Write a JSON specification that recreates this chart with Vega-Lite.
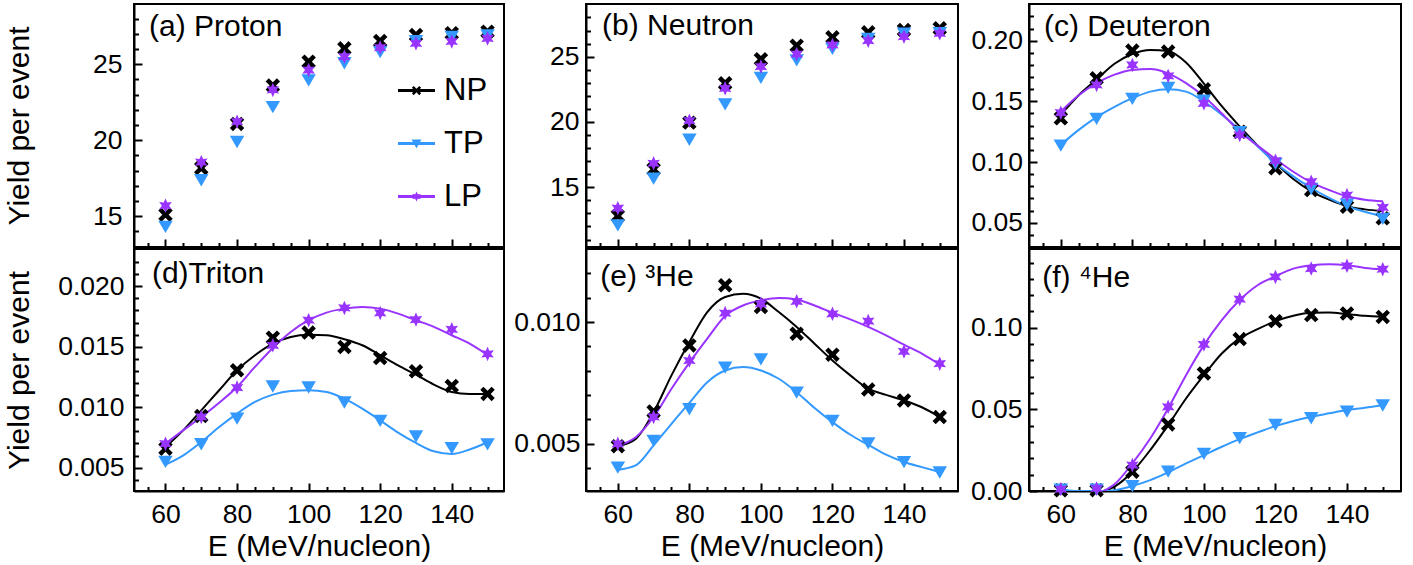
{
  "$schema": "https://vega.github.io/schema/vega-lite/v6.json",
  "padding": {"left": 3, "top": 3, "right": 5, "bottom": 5},
  "config": {
    "view": {"stroke": "black", "strokeWidth": 2},
    "font": "Liberation Sans",
    "axis": {"grid": false, "domainColor": "black", "domainWidth": 2, "tickColor": "black", "tickWidth": 2,
      "labelFont": "Liberation Sans", "labelFontSize": 26.5, "labelColor": "black",
      "titleFont": "Liberation Sans", "titleFontSize": 30, "titleFontWeight": "normal", "titleColor": "black",
      "labelOverlap": false, "labelFlush": false}
  },
  "datasets": {
    "pts_a": [
      {"E": 60, "model": "NP", "Y": 15.09}, {"E": 70, "model": "NP", "Y": 18.16}, {"E": 80, "model": "NP", "Y": 21.07}, {"E": 90, "model": "NP", "Y": 23.6}, {"E": 100, "model": "NP", "Y": 25.17}, {"E": 110, "model": "NP", "Y": 26.05}, {"E": 120, "model": "NP", "Y": 26.53}, {"E": 130, "model": "NP", "Y": 26.93}, {"E": 140, "model": "NP", "Y": 27.05}, {"E": 150, "model": "NP", "Y": 27.15},
      {"E": 60, "model": "TP", "Y": 14.32}, {"E": 70, "model": "TP", "Y": 17.39}, {"E": 80, "model": "TP", "Y": 19.91}, {"E": 90, "model": "TP", "Y": 22.21}, {"E": 100, "model": "TP", "Y": 23.97}, {"E": 110, "model": "TP", "Y": 25.1}, {"E": 120, "model": "TP", "Y": 25.83}, {"E": 130, "model": "TP", "Y": 26.55}, {"E": 140, "model": "TP", "Y": 26.84}, {"E": 150, "model": "TP", "Y": 26.93},
      {"E": 60, "model": "LP", "Y": 15.68}, {"E": 70, "model": "LP", "Y": 18.55}, {"E": 80, "model": "LP", "Y": 21.22}, {"E": 90, "model": "LP", "Y": 23.31}, {"E": 100, "model": "LP", "Y": 24.62}, {"E": 110, "model": "LP", "Y": 25.5}, {"E": 120, "model": "LP", "Y": 26.1}, {"E": 130, "model": "LP", "Y": 26.38}, {"E": 140, "model": "LP", "Y": 26.5}, {"E": 150, "model": "LP", "Y": 26.7}
    ],
    "pts_b": [
      {"E": 60, "model": "NP", "Y": 12.81}, {"E": 70, "model": "NP", "Y": 16.38}, {"E": 80, "model": "NP", "Y": 19.95}, {"E": 90, "model": "NP", "Y": 22.96}, {"E": 100, "model": "NP", "Y": 24.8}, {"E": 110, "model": "NP", "Y": 25.84}, {"E": 120, "model": "NP", "Y": 26.48}, {"E": 130, "model": "NP", "Y": 26.86}, {"E": 140, "model": "NP", "Y": 27.04}, {"E": 150, "model": "NP", "Y": 27.17},
      {"E": 60, "model": "TP", "Y": 12.12}, {"E": 70, "model": "TP", "Y": 15.7}, {"E": 80, "model": "TP", "Y": 18.68}, {"E": 90, "model": "TP", "Y": 21.38}, {"E": 100, "model": "TP", "Y": 23.42}, {"E": 110, "model": "TP", "Y": 24.75}, {"E": 120, "model": "TP", "Y": 25.64}, {"E": 130, "model": "TP", "Y": 26.4}, {"E": 140, "model": "TP", "Y": 26.79}, {"E": 150, "model": "TP", "Y": 26.84},
      {"E": 60, "model": "LP", "Y": 13.4}, {"E": 70, "model": "LP", "Y": 16.84}, {"E": 80, "model": "LP", "Y": 20.1}, {"E": 90, "model": "LP", "Y": 22.58}, {"E": 100, "model": "LP", "Y": 24.24}, {"E": 110, "model": "LP", "Y": 25.2}, {"E": 120, "model": "LP", "Y": 25.9}, {"E": 130, "model": "LP", "Y": 26.22}, {"E": 140, "model": "LP", "Y": 26.53}, {"E": 150, "model": "LP", "Y": 26.79}
    ],
    "pts_c": [
      {"E": 60, "model": "NP", "Y": 0.136}, {"E": 70, "model": "NP", "Y": 0.169}, {"E": 80, "model": "NP", "Y": 0.1918}, {"E": 90, "model": "NP", "Y": 0.191}, {"E": 100, "model": "NP", "Y": 0.1599}, {"E": 110, "model": "NP", "Y": 0.125}, {"E": 120, "model": "NP", "Y": 0.0948}, {"E": 130, "model": "NP", "Y": 0.0769}, {"E": 140, "model": "NP", "Y": 0.0632}, {"E": 150, "model": "NP", "Y": 0.0536},
      {"E": 60, "model": "TP", "Y": 0.114}, {"E": 70, "model": "TP", "Y": 0.136}, {"E": 80, "model": "TP", "Y": 0.1525}, {"E": 90, "model": "TP", "Y": 0.1615}, {"E": 100, "model": "TP", "Y": 0.151}, {"E": 110, "model": "TP", "Y": 0.125}, {"E": 120, "model": "TP", "Y": 0.0989}, {"E": 130, "model": "TP", "Y": 0.0783}, {"E": 140, "model": "TP", "Y": 0.0654}, {"E": 150, "model": "TP", "Y": 0.0536},
      {"E": 60, "model": "LP", "Y": 0.1407}, {"E": 70, "model": "LP", "Y": 0.1635}, {"E": 80, "model": "LP", "Y": 0.18}, {"E": 90, "model": "LP", "Y": 0.1709}, {"E": 100, "model": "LP", "Y": 0.1484}, {"E": 110, "model": "LP", "Y": 0.1223}, {"E": 120, "model": "LP", "Y": 0.1011}, {"E": 130, "model": "LP", "Y": 0.0838}, {"E": 140, "model": "LP", "Y": 0.0728}, {"E": 150, "model": "LP", "Y": 0.0626}
    ],
    "fit_c": [
      {"E": 60, "model": "NP", "Y": 0.1389}, {"E": 65, "model": "NP", "Y": 0.155}, {"E": 70, "model": "NP", "Y": 0.168}, {"E": 75, "model": "NP", "Y": 0.181}, {"E": 80, "model": "NP", "Y": 0.189}, {"E": 85, "model": "NP", "Y": 0.1923}, {"E": 90, "model": "NP", "Y": 0.1915}, {"E": 95, "model": "NP", "Y": 0.182}, {"E": 100, "model": "NP", "Y": 0.1646}, {"E": 105, "model": "NP", "Y": 0.146}, {"E": 110, "model": "NP", "Y": 0.1293}, {"E": 115, "model": "NP", "Y": 0.1135}, {"E": 120, "model": "NP", "Y": 0.0992}, {"E": 125, "model": "NP", "Y": 0.086}, {"E": 130, "model": "NP", "Y": 0.0759}, {"E": 135, "model": "NP", "Y": 0.069}, {"E": 140, "model": "NP", "Y": 0.0636}, {"E": 145, "model": "NP", "Y": 0.061}, {"E": 150, "model": "NP", "Y": 0.0595},
      {"E": 60, "model": "TP", "Y": 0.1142}, {"E": 65, "model": "TP", "Y": 0.1265}, {"E": 70, "model": "TP", "Y": 0.137}, {"E": 75, "model": "TP", "Y": 0.1455}, {"E": 80, "model": "TP", "Y": 0.1526}, {"E": 85, "model": "TP", "Y": 0.158}, {"E": 90, "model": "TP", "Y": 0.16}, {"E": 95, "model": "TP", "Y": 0.158}, {"E": 100, "model": "TP", "Y": 0.1499}, {"E": 105, "model": "TP", "Y": 0.139}, {"E": 110, "model": "TP", "Y": 0.1266}, {"E": 115, "model": "TP", "Y": 0.113}, {"E": 120, "model": "TP", "Y": 0.0992}, {"E": 125, "model": "TP", "Y": 0.0882}, {"E": 130, "model": "TP", "Y": 0.0786}, {"E": 135, "model": "TP", "Y": 0.0705}, {"E": 140, "model": "TP", "Y": 0.0636}, {"E": 145, "model": "TP", "Y": 0.059}, {"E": 150, "model": "TP", "Y": 0.0553},
      {"E": 60, "model": "LP", "Y": 0.1416}, {"E": 65, "model": "LP", "Y": 0.155}, {"E": 70, "model": "LP", "Y": 0.165}, {"E": 75, "model": "LP", "Y": 0.172}, {"E": 80, "model": "LP", "Y": 0.1759}, {"E": 85, "model": "LP", "Y": 0.1767}, {"E": 90, "model": "LP", "Y": 0.1731}, {"E": 95, "model": "LP", "Y": 0.165}, {"E": 100, "model": "LP", "Y": 0.154}, {"E": 105, "model": "LP", "Y": 0.14}, {"E": 110, "model": "LP", "Y": 0.1252}, {"E": 115, "model": "LP", "Y": 0.1135}, {"E": 120, "model": "LP", "Y": 0.1025}, {"E": 125, "model": "LP", "Y": 0.092}, {"E": 130, "model": "LP", "Y": 0.0833}, {"E": 135, "model": "LP", "Y": 0.077}, {"E": 140, "model": "LP", "Y": 0.0718}, {"E": 145, "model": "LP", "Y": 0.069}, {"E": 150, "model": "LP", "Y": 0.0677}
    ],
    "pts_d": [
      {"E": 60, "model": "NP", "Y": 0.00657}, {"E": 70, "model": "NP", "Y": 0.00927}, {"E": 80, "model": "NP", "Y": 0.01305}, {"E": 90, "model": "NP", "Y": 0.01575}, {"E": 100, "model": "NP", "Y": 0.01617}, {"E": 110, "model": "NP", "Y": 0.01498}, {"E": 120, "model": "NP", "Y": 0.01407}, {"E": 130, "model": "NP", "Y": 0.01297}, {"E": 140, "model": "NP", "Y": 0.01175}, {"E": 150, "model": "NP", "Y": 0.0111},
      {"E": 60, "model": "TP", "Y": 0.00552}, {"E": 70, "model": "TP", "Y": 0.00698}, {"E": 80, "model": "TP", "Y": 0.0091}, {"E": 90, "model": "TP", "Y": 0.01175}, {"E": 100, "model": "TP", "Y": 0.01167}, {"E": 110, "model": "TP", "Y": 0.01043}, {"E": 120, "model": "TP", "Y": 0.00891}, {"E": 130, "model": "TP", "Y": 0.00762}, {"E": 140, "model": "TP", "Y": 0.00665}, {"E": 150, "model": "TP", "Y": 0.00696},
      {"E": 60, "model": "LP", "Y": 0.00698}, {"E": 70, "model": "LP", "Y": 0.00919}, {"E": 80, "model": "LP", "Y": 0.01162}, {"E": 90, "model": "LP", "Y": 0.01512}, {"E": 100, "model": "LP", "Y": 0.01719}, {"E": 110, "model": "LP", "Y": 0.01821}, {"E": 120, "model": "LP", "Y": 0.01779}, {"E": 130, "model": "LP", "Y": 0.01724}, {"E": 140, "model": "LP", "Y": 0.01644}, {"E": 150, "model": "LP", "Y": 0.0144}
    ],
    "fit_d": [
      {"E": 60, "model": "NP", "Y": 0.0067}, {"E": 65, "model": "NP", "Y": 0.0081}, {"E": 70, "model": "NP", "Y": 0.00974}, {"E": 75, "model": "NP", "Y": 0.0114}, {"E": 80, "model": "NP", "Y": 0.01305}, {"E": 85, "model": "NP", "Y": 0.0143}, {"E": 90, "model": "NP", "Y": 0.01526}, {"E": 95, "model": "NP", "Y": 0.01581}, {"E": 100, "model": "NP", "Y": 0.016}, {"E": 105, "model": "NP", "Y": 0.01595}, {"E": 110, "model": "NP", "Y": 0.01562}, {"E": 115, "model": "NP", "Y": 0.01512}, {"E": 120, "model": "NP", "Y": 0.0143}, {"E": 125, "model": "NP", "Y": 0.01346}, {"E": 130, "model": "NP", "Y": 0.01269}, {"E": 135, "model": "NP", "Y": 0.01187}, {"E": 140, "model": "NP", "Y": 0.01126}, {"E": 145, "model": "NP", "Y": 0.0111}, {"E": 150, "model": "NP", "Y": 0.0111},
      {"E": 60, "model": "TP", "Y": 0.00525}, {"E": 65, "model": "TP", "Y": 0.00602}, {"E": 70, "model": "TP", "Y": 0.00712}, {"E": 75, "model": "TP", "Y": 0.00836}, {"E": 80, "model": "TP", "Y": 0.00947}, {"E": 85, "model": "TP", "Y": 0.01043}, {"E": 90, "model": "TP", "Y": 0.01104}, {"E": 95, "model": "TP", "Y": 0.01134}, {"E": 100, "model": "TP", "Y": 0.0114}, {"E": 105, "model": "TP", "Y": 0.01126}, {"E": 110, "model": "TP", "Y": 0.01071}, {"E": 115, "model": "TP", "Y": 0.00988}, {"E": 120, "model": "TP", "Y": 0.00891}, {"E": 125, "model": "TP", "Y": 0.0079}, {"E": 130, "model": "TP", "Y": 0.00704}, {"E": 135, "model": "TP", "Y": 0.00635}, {"E": 140, "model": "TP", "Y": 0.00613}, {"E": 145, "model": "TP", "Y": 0.0065}, {"E": 150, "model": "TP", "Y": 0.0071},
      {"E": 60, "model": "LP", "Y": 0.007}, {"E": 65, "model": "LP", "Y": 0.0081}, {"E": 70, "model": "LP", "Y": 0.00919}, {"E": 75, "model": "LP", "Y": 0.01037}, {"E": 80, "model": "LP", "Y": 0.01167}, {"E": 85, "model": "LP", "Y": 0.01333}, {"E": 90, "model": "LP", "Y": 0.0149}, {"E": 95, "model": "LP", "Y": 0.01622}, {"E": 100, "model": "LP", "Y": 0.01719}, {"E": 105, "model": "LP", "Y": 0.01782}, {"E": 110, "model": "LP", "Y": 0.01815}, {"E": 115, "model": "LP", "Y": 0.01829}, {"E": 120, "model": "LP", "Y": 0.01815}, {"E": 125, "model": "LP", "Y": 0.01774}, {"E": 130, "model": "LP", "Y": 0.01719}, {"E": 135, "model": "LP", "Y": 0.01664}, {"E": 140, "model": "LP", "Y": 0.01595}, {"E": 145, "model": "LP", "Y": 0.01526}, {"E": 150, "model": "LP", "Y": 0.01432}
    ],
    "pts_e": [
      {"E": 60, "model": "NP", "Y": 0.0049}, {"E": 70, "model": "NP", "Y": 0.00633}, {"E": 80, "model": "NP", "Y": 0.00904}, {"E": 90, "model": "NP", "Y": 0.01151}, {"E": 100, "model": "NP", "Y": 0.01062}, {"E": 110, "model": "NP", "Y": 0.00952}, {"E": 120, "model": "NP", "Y": 0.00866}, {"E": 130, "model": "NP", "Y": 0.00723}, {"E": 140, "model": "NP", "Y": 0.00678}, {"E": 150, "model": "NP", "Y": 0.0061},
      {"E": 60, "model": "TP", "Y": 0.00404}, {"E": 70, "model": "TP", "Y": 0.00514}, {"E": 80, "model": "TP", "Y": 0.00644}, {"E": 90, "model": "TP", "Y": 0.00815}, {"E": 100, "model": "TP", "Y": 0.00849}, {"E": 110, "model": "TP", "Y": 0.00712}, {"E": 120, "model": "TP", "Y": 0.00596}, {"E": 130, "model": "TP", "Y": 0.00504}, {"E": 140, "model": "TP", "Y": 0.00427}, {"E": 150, "model": "TP", "Y": 0.00384},
      {"E": 60, "model": "LP", "Y": 0.005}, {"E": 70, "model": "LP", "Y": 0.0061}, {"E": 80, "model": "LP", "Y": 0.00842}, {"E": 90, "model": "LP", "Y": 0.01037}, {"E": 100, "model": "LP", "Y": 0.01075}, {"E": 110, "model": "LP", "Y": 0.01085}, {"E": 120, "model": "LP", "Y": 0.01034}, {"E": 130, "model": "LP", "Y": 0.01004}, {"E": 140, "model": "LP", "Y": 0.00879}, {"E": 150, "model": "LP", "Y": 0.00829}
    ],
    "fit_e": [
      {"E": 60, "model": "NP", "Y": 0.0049}, {"E": 65, "model": "NP", "Y": 0.0052}, {"E": 70, "model": "NP", "Y": 0.0063}, {"E": 75, "model": "NP", "Y": 0.00781}, {"E": 80, "model": "NP", "Y": 0.00918}, {"E": 85, "model": "NP", "Y": 0.01041}, {"E": 90, "model": "NP", "Y": 0.01103}, {"E": 95, "model": "NP", "Y": 0.01116}, {"E": 100, "model": "NP", "Y": 0.01096}, {"E": 105, "model": "NP", "Y": 0.01041}, {"E": 110, "model": "NP", "Y": 0.0098}, {"E": 115, "model": "NP", "Y": 0.00911}, {"E": 120, "model": "NP", "Y": 0.00842}, {"E": 125, "model": "NP", "Y": 0.00781}, {"E": 130, "model": "NP", "Y": 0.00726}, {"E": 135, "model": "NP", "Y": 0.00701}, {"E": 140, "model": "NP", "Y": 0.00678}, {"E": 145, "model": "NP", "Y": 0.0065}, {"E": 150, "model": "NP", "Y": 0.0061},
      {"E": 60, "model": "TP", "Y": 0.00393}, {"E": 65, "model": "TP", "Y": 0.00411}, {"E": 70, "model": "TP", "Y": 0.00493}, {"E": 75, "model": "TP", "Y": 0.00582}, {"E": 80, "model": "TP", "Y": 0.00668}, {"E": 85, "model": "TP", "Y": 0.00753}, {"E": 90, "model": "TP", "Y": 0.00801}, {"E": 95, "model": "TP", "Y": 0.00815}, {"E": 100, "model": "TP", "Y": 0.00801}, {"E": 105, "model": "TP", "Y": 0.00767}, {"E": 110, "model": "TP", "Y": 0.00712}, {"E": 115, "model": "TP", "Y": 0.00647}, {"E": 120, "model": "TP", "Y": 0.00589}, {"E": 125, "model": "TP", "Y": 0.00537}, {"E": 130, "model": "TP", "Y": 0.00496}, {"E": 135, "model": "TP", "Y": 0.00455}, {"E": 140, "model": "TP", "Y": 0.00425}, {"E": 145, "model": "TP", "Y": 0.00404}, {"E": 150, "model": "TP", "Y": 0.00384},
      {"E": 60, "model": "LP", "Y": 0.00493}, {"E": 65, "model": "LP", "Y": 0.00527}, {"E": 70, "model": "LP", "Y": 0.0061}, {"E": 75, "model": "LP", "Y": 0.00726}, {"E": 80, "model": "LP", "Y": 0.00833}, {"E": 85, "model": "LP", "Y": 0.00932}, {"E": 90, "model": "LP", "Y": 0.01025}, {"E": 95, "model": "LP", "Y": 0.01068}, {"E": 100, "model": "LP", "Y": 0.01089}, {"E": 105, "model": "LP", "Y": 0.01099}, {"E": 110, "model": "LP", "Y": 0.01093}, {"E": 115, "model": "LP", "Y": 0.01068}, {"E": 120, "model": "LP", "Y": 0.01038}, {"E": 125, "model": "LP", "Y": 0.01011}, {"E": 130, "model": "LP", "Y": 0.0098}, {"E": 135, "model": "LP", "Y": 0.00945}, {"E": 140, "model": "LP", "Y": 0.00907}, {"E": 145, "model": "LP", "Y": 0.0087}, {"E": 150, "model": "LP", "Y": 0.00825}
    ],
    "pts_f": [
      {"E": 60, "model": "NP", "Y": 0.0004}, {"E": 70, "model": "NP", "Y": 0.0005}, {"E": 80, "model": "NP", "Y": 0.0118}, {"E": 90, "model": "NP", "Y": 0.0408}, {"E": 100, "model": "NP", "Y": 0.072}, {"E": 110, "model": "NP", "Y": 0.0931}, {"E": 120, "model": "NP", "Y": 0.1041}, {"E": 130, "model": "NP", "Y": 0.1078}, {"E": 140, "model": "NP", "Y": 0.1088}, {"E": 150, "model": "NP", "Y": 0.1067},
      {"E": 60, "model": "TP", "Y": 0.0012}, {"E": 70, "model": "TP", "Y": 0.0012}, {"E": 80, "model": "TP", "Y": 0.0033}, {"E": 90, "model": "TP", "Y": 0.0122}, {"E": 100, "model": "TP", "Y": 0.0231}, {"E": 110, "model": "TP", "Y": 0.0327}, {"E": 120, "model": "TP", "Y": 0.0408}, {"E": 130, "model": "TP", "Y": 0.0449}, {"E": 140, "model": "TP", "Y": 0.049}, {"E": 150, "model": "TP", "Y": 0.0527},
      {"E": 60, "model": "LP", "Y": 0.0012}, {"E": 70, "model": "LP", "Y": 0.0016}, {"E": 80, "model": "LP", "Y": 0.0159}, {"E": 90, "model": "LP", "Y": 0.0516}, {"E": 100, "model": "LP", "Y": 0.0898}, {"E": 110, "model": "LP", "Y": 0.1176}, {"E": 120, "model": "LP", "Y": 0.1312}, {"E": 130, "model": "LP", "Y": 0.1363}, {"E": 140, "model": "LP", "Y": 0.138}, {"E": 150, "model": "LP", "Y": 0.1359}
    ],
    "fit_f": [
      {"E": 72, "model": "NP", "Y": 0}, {"E": 75, "model": "NP", "Y": 0.0027}, {"E": 80, "model": "NP", "Y": 0.0118}, {"E": 85, "model": "NP", "Y": 0.0251}, {"E": 90, "model": "NP", "Y": 0.0404}, {"E": 95, "model": "NP", "Y": 0.0567}, {"E": 100, "model": "NP", "Y": 0.071}, {"E": 105, "model": "NP", "Y": 0.0843}, {"E": 110, "model": "NP", "Y": 0.0935}, {"E": 115, "model": "NP", "Y": 0.0992}, {"E": 120, "model": "NP", "Y": 0.1041}, {"E": 125, "model": "NP", "Y": 0.1074}, {"E": 130, "model": "NP", "Y": 0.1092}, {"E": 135, "model": "NP", "Y": 0.1094}, {"E": 140, "model": "NP", "Y": 0.1084}, {"E": 145, "model": "NP", "Y": 0.1074}, {"E": 150, "model": "NP", "Y": 0.1067},
      {"E": 60, "model": "TP", "Y": 0.0012}, {"E": 64, "model": "TP", "Y": 0}, {"E": 73, "model": "TP", "Y": 0}, {"E": 80, "model": "TP", "Y": 0.0031}, {"E": 85, "model": "TP", "Y": 0.0067}, {"E": 90, "model": "TP", "Y": 0.0114}, {"E": 95, "model": "TP", "Y": 0.0169}, {"E": 100, "model": "TP", "Y": 0.022}, {"E": 105, "model": "TP", "Y": 0.0271}, {"E": 110, "model": "TP", "Y": 0.0318}, {"E": 115, "model": "TP", "Y": 0.0359}, {"E": 120, "model": "TP", "Y": 0.0398}, {"E": 125, "model": "TP", "Y": 0.0429}, {"E": 130, "model": "TP", "Y": 0.0455}, {"E": 135, "model": "TP", "Y": 0.0476}, {"E": 140, "model": "TP", "Y": 0.0496}, {"E": 145, "model": "TP", "Y": 0.051}, {"E": 150, "model": "TP", "Y": 0.0527},
      {"E": 72, "model": "LP", "Y": 0}, {"E": 75, "model": "LP", "Y": 0.0041}, {"E": 80, "model": "LP", "Y": 0.0169}, {"E": 85, "model": "LP", "Y": 0.0322}, {"E": 90, "model": "LP", "Y": 0.0506}, {"E": 95, "model": "LP", "Y": 0.071}, {"E": 100, "model": "LP", "Y": 0.0894}, {"E": 105, "model": "LP", "Y": 0.1047}, {"E": 110, "model": "LP", "Y": 0.117}, {"E": 115, "model": "LP", "Y": 0.1261}, {"E": 120, "model": "LP", "Y": 0.1316}, {"E": 125, "model": "LP", "Y": 0.1363}, {"E": 130, "model": "LP", "Y": 0.1384}, {"E": 135, "model": "LP", "Y": 0.139}, {"E": 140, "model": "LP", "Y": 0.1384}, {"E": 145, "model": "LP", "Y": 0.1367}, {"E": 150, "model": "LP", "Y": 0.1359}
    ]
  },
  "spacing": 10,
  "hconcat": [
    {"spacing": 7, "hconcat": [
    {"spacing": -2, "vconcat": [
      {"width": 370, "height": 243,
       "resolve": {"scale": {"shape": "independent", "color": "independent"}, "axis": {"x": "independent", "y": "independent"}},
       "layer": [
        {"data": {"name": "pts_a"}, "mark": {"type": "point", "filled": true, "opacity": 1, "size": 210},
         "encoding": {
          "x": {"field": "E", "type": "quantitative", "scale": {"domain": [51.2, 154.6], "nice": false, "zero": false},
                "axis": {"orient": "bottom", "values": [60, 80, 100, 120, 140], "labels": false, "ticks": false, "tickSize": 0, "title": null}},
          "y": {"field": "Y", "type": "quantitative", "scale": {"domain": [12.96, 28.97], "nice": false, "zero": false},
                "axis": {"orient": "left", "values": [15, 20, 25], "format": "d", "ticks": false, "tickSize": 0, "labelPadding": 12, "title": "Yield per event", "titleX": -100}},
          "color": {"field": "model", "type": "nominal", "scale": {"domain": ["NP", "TP", "LP"], "range": ["#000000", "#3399FF", "#9933FF"]}, "legend": null},
          "shape": {"field": "model", "type": "nominal", "scale": {"domain": ["NP", "TP", "LP"], "range": [
            "M0,-0.44L0.56,-1L1,-0.56L0.44,0L1,0.56L0.56,1L0,0.44L-0.56,1L-1,0.56L-0.44,0L-1,-0.56L-0.56,-1Z",
            "M-1,-0.78L1,-0.78L0,0.92Z",
            "M0,-1L0.25,-0.43L0.866,-0.5L0.5,0L0.866,0.5L0.25,0.43L0,1L-0.25,0.43L-0.866,0.5L-0.5,0L-0.866,-0.5L-0.25,-0.43Z"]}, "legend": null}
         }},
        {"data": {"name": "pts_a"}, "transform": [{"filter": "datum.E > 1000"}],
         "mark": {"type": "point", "filled": true, "opacity": 1, "size": 1369},
         "encoding": {
          "x": {"field": "E", "type": "quantitative", "axis": {"orient": "bottom", "values": [60, 80, 100, 120, 140], "labels": false, "domain": false, "tickSize": -8, "title": null}},
          "y": {"field": "Y", "type": "quantitative", "axis": {"orient": "left", "values": [15, 20, 25], "labels": false, "domain": false, "tickSize": -8, "title": null}},
          "color": {"field": "model", "type": "nominal", "scale": {"domain": ["NP", "TP", "LP"], "range": ["#000000", "#3399FF", "#9933FF"]},
                    "legend": {"orient": "none", "legendX": 264, "legendY": 68, "title": null, "labelFont": "Liberation Sans", "labelFontSize": 31, "labelColor": "black", "symbolSize": 1369, "rowPadding": 19, "labelOffset": 9, "symbolStrokeWidth": 0}},
          "shape": {"field": "model", "type": "nominal", "scale": {"domain": ["NP", "TP", "LP"], "range": [
            "M-1,-0.08H1V0.08H-1Z M0,-0.1L0.15,-0.25L0.25,-0.15L0.1,0L0.25,0.15L0.15,0.25L0,0.1L-0.15,0.25L-0.25,0.15L-0.1,0L-0.25,-0.15L-0.15,-0.25Z",
            "M-1,-0.08H1V0.08H-1Z M-0.27,-0.21L0.27,-0.21L0,0.25Z",
            "M-1,-0.08H1V0.08H-1Z M0,-0.27L0.07,-0.12L0.234,-0.135L0.135,0L0.234,0.135L0.07,0.12L0,0.27L-0.07,0.12L-0.234,0.135L-0.135,0L-0.234,-0.135L-0.07,-0.12Z"]},
                    "legend": {"orient": "none", "legendX": 264, "legendY": 68, "title": null, "labelFont": "Liberation Sans", "labelFontSize": 31, "labelColor": "black", "symbolSize": 1369, "rowPadding": 19, "labelOffset": 9, "symbolStrokeWidth": 0}}
         }},
        {"data": {"values": [{}]}, "mark": {"type": "text", "font": "Liberation Sans", "fontSize": 30, "align": "left", "baseline": "middle", "color": "black"},
         "encoding": {
          "x": {"datum": 55.4, "type": "quantitative", "axis": {"orient": "bottom", "values": [55,65,70,75,85,90,95,105,110,115,125,130,135,145,150], "labels": false, "domain": false, "tickSize": -4.5, "title": null}},
          "y": {"datum": 27.46, "type": "quantitative", "axis": {"orient": "left", "values": [14,16,17,18,19,21,22,23,24,26,27,28], "labels": false, "domain": false, "tickSize": -4.5, "title": null}},
          "text": {"value": "(a) Proton"}}}
       ]},
      {"width": 370, "height": 242,
       "resolve": {"axis": {"x": "independent", "y": "independent"}},
       "layer": [
        {"data": {"name": "fit_d"}, "mark": {"type": "line", "interpolate": "monotone", "strokeWidth": 2, "clip": true},
         "encoding": {
          "x": {"field": "E", "type": "quantitative", "scale": {"domain": [51.2, 154.6], "nice": false, "zero": false},
                "axis": {"orient": "bottom", "values": [60, 80, 100, 120, 140], "format": "d", "ticks": false, "tickSize": 0, "labelPadding": 10.5, "title": "E (MeV/nucleon)", "titlePadding": 3}},
          "y": {"field": "Y", "type": "quantitative", "scale": {"domain": [0.00307, 0.02308], "nice": false, "zero": false},
                "axis": {"orient": "left", "values": [0.005, 0.01, 0.015, 0.02], "format": ".3f", "ticks": false, "tickSize": 0, "labelPadding": 10, "title": "Yield per event", "titleX": -100}},
          "color": {"field": "model", "type": "nominal", "scale": {"domain": ["NP", "TP", "LP"], "range": ["#000000", "#3399FF", "#9933FF"]}, "legend": null}
         }},
        {"data": {"name": "pts_d"}, "mark": {"type": "point", "filled": true, "opacity": 1, "size": 210},
         "encoding": {
          "x": {"field": "E", "type": "quantitative", "axis": {"orient": "bottom", "values": [60, 80, 100, 120, 140], "labels": false, "domain": false, "tickSize": -8, "title": null}},
          "y": {"field": "Y", "type": "quantitative", "axis": {"orient": "left", "values": [0.005, 0.01, 0.015, 0.02], "labels": false, "domain": false, "tickSize": -8, "title": null}},
          "color": {"field": "model", "type": "nominal", "legend": null},
          "shape": {"field": "model", "type": "nominal", "scale": {"domain": ["NP", "TP", "LP"], "range": [
            "M0,-0.44L0.56,-1L1,-0.56L0.44,0L1,0.56L0.56,1L0,0.44L-0.56,1L-1,0.56L-0.44,0L-1,-0.56L-0.56,-1Z",
            "M-1,-0.78L1,-0.78L0,0.92Z",
            "M0,-1L0.25,-0.43L0.866,-0.5L0.5,0L0.866,0.5L0.25,0.43L0,1L-0.25,0.43L-0.866,0.5L-0.5,0L-0.866,-0.5L-0.25,-0.43Z"]}, "legend": null}
         }},
        {"data": {"values": [{}]}, "mark": {"type": "text", "font": "Liberation Sans", "fontSize": 30, "align": "left", "baseline": "middle", "color": "black"},
         "encoding": {
          "x": {"datum": 56.2, "type": "quantitative", "axis": {"orient": "bottom", "values": [55,65,70,75,85,90,95,105,110,115,125,130,135,145,150], "labels": false, "domain": false, "tickSize": -4.5, "title": null}},
          "y": {"datum": 0.02101, "type": "quantitative", "axis": {"orient": "left", "values": [0.004,0.006,0.007,0.008,0.009,0.011,0.012,0.013,0.014,0.016,0.017,0.018,0.019,0.021,0.022], "labels": false, "domain": false, "tickSize": -4.5, "title": null}},
          "text": {"value": "(d)Triton"}}}
       ]}
    ]},
    {"spacing": -2, "vconcat": [
      {"width": 372, "height": 243,
       "resolve": {"axis": {"x": "independent", "y": "independent"}},
       "layer": [
        {"data": {"name": "pts_b"}, "mark": {"type": "point", "filled": true, "opacity": 1, "size": 210},
         "encoding": {
          "x": {"field": "E", "type": "quantitative", "scale": {"domain": [51.1, 155.1], "nice": false, "zero": false},
                "axis": {"orient": "bottom", "values": [60, 80, 100, 120, 140], "labels": false, "ticks": false, "tickSize": 0, "title": null}},
          "y": {"field": "Y", "type": "quantitative", "scale": {"domain": [10.43, 29.03], "nice": false, "zero": false},
                "axis": {"orient": "left", "values": [15, 20, 25], "format": "d", "ticks": false, "tickSize": 0, "labelPadding": 7, "title": null}},
          "color": {"field": "model", "type": "nominal", "scale": {"domain": ["NP", "TP", "LP"], "range": ["#000000", "#3399FF", "#9933FF"]}, "legend": null},
          "shape": {"field": "model", "type": "nominal", "scale": {"domain": ["NP", "TP", "LP"], "range": [
            "M0,-0.44L0.56,-1L1,-0.56L0.44,0L1,0.56L0.56,1L0,0.44L-0.56,1L-1,0.56L-0.44,0L-1,-0.56L-0.56,-1Z",
            "M-1,-0.78L1,-0.78L0,0.92Z",
            "M0,-1L0.25,-0.43L0.866,-0.5L0.5,0L0.866,0.5L0.25,0.43L0,1L-0.25,0.43L-0.866,0.5L-0.5,0L-0.866,-0.5L-0.25,-0.43Z"]}, "legend": null}
         }},
        {"data": {"name": "pts_b"}, "transform": [{"filter": "datum.E > 1000"}], "mark": {"type": "point"},
         "encoding": {
          "x": {"field": "E", "type": "quantitative", "axis": {"orient": "bottom", "values": [60, 80, 100, 120, 140], "labels": false, "domain": false, "tickSize": -8, "title": null}},
          "y": {"field": "Y", "type": "quantitative", "axis": {"orient": "left", "values": [15, 20, 25], "labels": false, "domain": false, "tickSize": -8, "title": null}}
         }},
        {"data": {"values": [{}]}, "mark": {"type": "text", "font": "Liberation Sans", "fontSize": 30, "align": "left", "baseline": "middle", "color": "black"},
         "encoding": {
          "x": {"datum": 55.6, "type": "quantitative", "axis": {"orient": "bottom", "values": [55,65,70,75,85,90,95,105,110,115,125,130,135,145,150], "labels": false, "domain": false, "tickSize": -4.5, "title": null}},
          "y": {"datum": 27.35, "type": "quantitative", "axis": {"orient": "left", "values": [11,12,13,14,16,17,18,19,21,22,23,24,26,27,28], "labels": false, "domain": false, "tickSize": -4.5, "title": null}},
          "text": {"value": "(b) Neutron"}}}
       ]},
      {"width": 372, "height": 242,
       "resolve": {"axis": {"x": "independent", "y": "independent"}},
       "layer": [
        {"data": {"name": "fit_e"}, "mark": {"type": "line", "interpolate": "monotone", "strokeWidth": 2, "clip": true},
         "encoding": {
          "x": {"field": "E", "type": "quantitative", "scale": {"domain": [51.1, 155.1], "nice": false, "zero": false},
                "axis": {"orient": "bottom", "values": [60, 80, 100, 120, 140], "format": "d", "ticks": false, "tickSize": 0, "labelPadding": 10.5, "title": "E (MeV/nucleon)", "titlePadding": 3}},
          "y": {"field": "Y", "type": "quantitative", "scale": {"domain": [0.00306, 0.013], "nice": false, "zero": false},
                "axis": {"orient": "left", "values": [0.005, 0.01], "format": ".3f", "ticks": false, "tickSize": 0, "labelPadding": 6, "title": null}},
          "color": {"field": "model", "type": "nominal", "scale": {"domain": ["NP", "TP", "LP"], "range": ["#000000", "#3399FF", "#9933FF"]}, "legend": null}
         }},
        {"data": {"name": "pts_e"}, "mark": {"type": "point", "filled": true, "opacity": 1, "size": 210},
         "encoding": {
          "x": {"field": "E", "type": "quantitative", "axis": {"orient": "bottom", "values": [60, 80, 100, 120, 140], "labels": false, "domain": false, "tickSize": -8, "title": null}},
          "y": {"field": "Y", "type": "quantitative", "axis": {"orient": "left", "values": [0.005, 0.01], "labels": false, "domain": false, "tickSize": -8, "title": null}},
          "color": {"field": "model", "type": "nominal", "legend": null},
          "shape": {"field": "model", "type": "nominal", "scale": {"domain": ["NP", "TP", "LP"], "range": [
            "M0,-0.44L0.56,-1L1,-0.56L0.44,0L1,0.56L0.56,1L0,0.44L-0.56,1L-1,0.56L-0.44,0L-1,-0.56L-0.56,-1Z",
            "M-1,-0.78L1,-0.78L0,0.92Z",
            "M0,-1L0.25,-0.43L0.866,-0.5L0.5,0L0.866,0.5L0.25,0.43L0,1L-0.25,0.43L-0.866,0.5L-0.5,0L-0.866,-0.5L-0.25,-0.43Z"]}, "legend": null}
         }},
        {"data": {"values": [{}]}, "mark": {"type": "text", "font": "Liberation Sans", "fontSize": 30, "align": "left", "baseline": "middle", "color": "black"},
         "encoding": {
          "x": {"datum": 55.1, "type": "quantitative", "axis": {"orient": "bottom", "values": [55,65,70,75,85,90,95,105,110,115,125,130,135,145,150], "labels": false, "domain": false, "tickSize": -4.5, "title": null}},
          "y": {"datum": 0.01185, "type": "quantitative", "axis": {"orient": "left", "values": [0.004,0.006,0.007,0.008,0.009,0.011,0.012], "labels": false, "domain": false, "tickSize": -4.5, "title": null}},
          "text": {"value": "(e) ³He"}}}
       ]}
    ]}
    ]},
    {"spacing": -2, "vconcat": [
      {"width": 372, "height": 243,
       "resolve": {"axis": {"x": "independent", "y": "independent"}},
       "layer": [
        {"data": {"name": "fit_c"}, "mark": {"type": "line", "interpolate": "monotone", "strokeWidth": 2, "clip": true},
         "encoding": {
          "x": {"field": "E", "type": "quantitative", "scale": {"domain": [51.1, 155.1], "nice": false, "zero": false},
                "axis": {"orient": "bottom", "values": [60, 80, 100, 120, 140], "labels": false, "ticks": false, "tickSize": 0, "title": null}},
          "y": {"field": "Y", "type": "quantitative", "scale": {"domain": [0.03, 0.2302], "nice": false, "zero": false},
                "axis": {"orient": "left", "values": [0.05, 0.1, 0.15, 0.2], "format": ".2f", "ticks": false, "tickSize": 0, "labelPadding": 6.5, "title": null}},
          "color": {"field": "model", "type": "nominal", "scale": {"domain": ["NP", "TP", "LP"], "range": ["#000000", "#3399FF", "#9933FF"]}, "legend": null}
         }},
        {"data": {"name": "pts_c"}, "mark": {"type": "point", "filled": true, "opacity": 1, "size": 210},
         "encoding": {
          "x": {"field": "E", "type": "quantitative", "axis": {"orient": "bottom", "values": [60, 80, 100, 120, 140], "labels": false, "domain": false, "tickSize": -8, "title": null}},
          "y": {"field": "Y", "type": "quantitative", "axis": {"orient": "left", "values": [0.05, 0.1, 0.15, 0.2], "labels": false, "domain": false, "tickSize": -8, "title": null}},
          "color": {"field": "model", "type": "nominal", "legend": null},
          "shape": {"field": "model", "type": "nominal", "scale": {"domain": ["NP", "TP", "LP"], "range": [
            "M0,-0.44L0.56,-1L1,-0.56L0.44,0L1,0.56L0.56,1L0,0.44L-0.56,1L-1,0.56L-0.44,0L-1,-0.56L-0.56,-1Z",
            "M-1,-0.78L1,-0.78L0,0.92Z",
            "M0,-1L0.25,-0.43L0.866,-0.5L0.5,0L0.866,0.5L0.25,0.43L0,1L-0.25,0.43L-0.866,0.5L-0.5,0L-0.866,-0.5L-0.25,-0.43Z"]}, "legend": null}
         }},
        {"data": {"values": [{}]}, "mark": {"type": "text", "font": "Liberation Sans", "fontSize": 30, "align": "left", "baseline": "middle", "color": "black"},
         "encoding": {
          "x": {"datum": 55.3, "type": "quantitative", "axis": {"orient": "bottom", "values": [55,65,70,75,85,90,95,105,110,115,125,130,135,145,150], "labels": false, "domain": false, "tickSize": -4.5, "title": null}},
          "y": {"datum": 0.2113, "type": "quantitative", "axis": {"orient": "left", "values": [0.04,0.06,0.07,0.08,0.09,0.11,0.12,0.13,0.14,0.16,0.17,0.18,0.19,0.21,0.22], "labels": false, "domain": false, "tickSize": -4.5, "title": null}},
          "text": {"value": "(c) Deuteron"}}}
       ]},
      {"width": 372, "height": 242,
       "resolve": {"axis": {"x": "independent", "y": "independent"}},
       "layer": [
        {"data": {"name": "fit_f"}, "mark": {"type": "line", "interpolate": "monotone", "strokeWidth": 2, "clip": true},
         "encoding": {
          "x": {"field": "E", "type": "quantitative", "scale": {"domain": [51.1, 155.1], "nice": false, "zero": false},
                "axis": {"orient": "bottom", "values": [60, 80, 100, 120, 140], "format": "d", "ticks": false, "tickSize": 0, "labelPadding": 10.5, "title": "E (MeV/nucleon)", "titlePadding": 3}},
          "y": {"field": "Y", "type": "quantitative", "scale": {"domain": [0, 0.1483], "nice": false, "zero": false},
                "axis": {"orient": "left", "values": [0, 0.05, 0.1], "format": ".2f", "ticks": false, "tickSize": 0, "labelPadding": 7, "title": null}},
          "color": {"field": "model", "type": "nominal", "scale": {"domain": ["NP", "TP", "LP"], "range": ["#000000", "#3399FF", "#9933FF"]}, "legend": null}
         }},
        {"data": {"name": "pts_f"}, "mark": {"type": "point", "filled": true, "opacity": 1, "size": 210},
         "encoding": {
          "x": {"field": "E", "type": "quantitative", "axis": {"orient": "bottom", "values": [60, 80, 100, 120, 140], "labels": false, "domain": false, "tickSize": -8, "title": null}},
          "y": {"field": "Y", "type": "quantitative", "axis": {"orient": "left", "values": [0, 0.05, 0.1], "labels": false, "domain": false, "tickSize": -8, "title": null}},
          "color": {"field": "model", "type": "nominal", "legend": null},
          "shape": {"field": "model", "type": "nominal", "scale": {"domain": ["NP", "TP", "LP"], "range": [
            "M0,-0.44L0.56,-1L1,-0.56L0.44,0L1,0.56L0.56,1L0,0.44L-0.56,1L-1,0.56L-0.44,0L-1,-0.56L-0.56,-1Z",
            "M-1,-0.78L1,-0.78L0,0.92Z",
            "M0,-1L0.25,-0.43L0.866,-0.5L0.5,0L0.866,0.5L0.25,0.43L0,1L-0.25,0.43L-0.866,0.5L-0.5,0L-0.866,-0.5L-0.25,-0.43Z"]}, "legend": null}
         }},
        {"data": {"values": [{}]}, "mark": {"type": "text", "font": "Liberation Sans", "fontSize": 30, "align": "left", "baseline": "middle", "color": "black"},
         "encoding": {
          "x": {"datum": 54.8, "type": "quantitative", "axis": {"orient": "bottom", "values": [55,65,70,75,85,90,95,105,110,115,125,130,135,145,150], "labels": false, "domain": false, "tickSize": -4.5, "title": null}},
          "y": {"datum": 0.1306, "type": "quantitative", "axis": {"orient": "left", "values": [0.01,0.02,0.03,0.04,0.06,0.07,0.08,0.09,0.11,0.12,0.13,0.14], "labels": false, "domain": false, "tickSize": -4.5, "title": null}},
          "text": {"value": "(f) ⁴He"}}}
       ]}
    ]}
  ]
}
